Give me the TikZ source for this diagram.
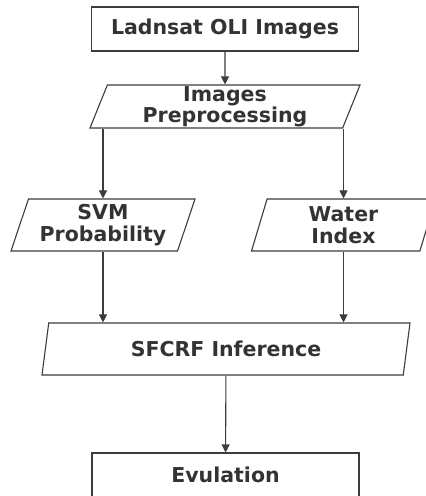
\documentclass[tikz,border=0pt]{standalone}
\usepackage{fontspec}
\setmainfont{DejaVu Sans}
\usetikzlibrary{shapes.geometric,arrows.meta}
\definecolor{linegray}{HTML}{3C3C3C}
\definecolor{textgray}{HTML}{333333}
\tikzset{
  stepbox/.style={draw=linegray, line width=1.1pt, rectangle, minimum width=267pt, minimum height=44pt, inner sep=0pt},
  databox/.style={draw=linegray, line width=1.1pt, trapezium, trapezium left angle=67, trapezium right angle=113,
    trapezium stretches body, inner sep=0pt, align=center},
  txt/.style={text=textgray, font=\fontsize{20.5}{21.5}\selectfont\bfseries},
  flow/.style={draw=linegray, line width=1.1pt, -{Triangle[length=8pt,width=8pt]}}
}
\begin{document}
\begin{tikzpicture}[x=1pt,y=-1pt]
    \useasboundingbox (0,0) rectangle (426,496);
	 \node[stepbox,txt] (land) at (225,29) {Ladnsat OLI Images};
	 \node[databox,txt,minimum width=270pt,minimum height=43pt] (prep) at (225,106.5) {Images\\Preprocessing};
	 \node[databox,txt,minimum width=184pt,minimum height=52pt] (svm) at (103,225) {SVM\\Probability};
	 \node[databox,txt,minimum width=184pt,minimum height=52pt] (water) at (343.5,225) {Water\\Index};
	 \node[databox,txt,minimum width=368pt,minimum height=52pt] (crf) at (226,349) {SFCRF Inference};
	 \node[stepbox,txt] (eval) at (225.5,475) {Evulation};

	 \draw[flow] (land) -- (prep);
	 \draw[flow] (prep.south -| svm.north) -- (svm.north);
	 \draw[flow] (prep.south -| water.north) -- (water.north);
	 \draw[flow] (svm.south) -- (svm.south |- crf.north);
	 \draw[flow] (water.south) -- (water.south |- crf.north);
	 \draw[flow] (crf) -- (eval);

   \end{tikzpicture}
\end{document}
